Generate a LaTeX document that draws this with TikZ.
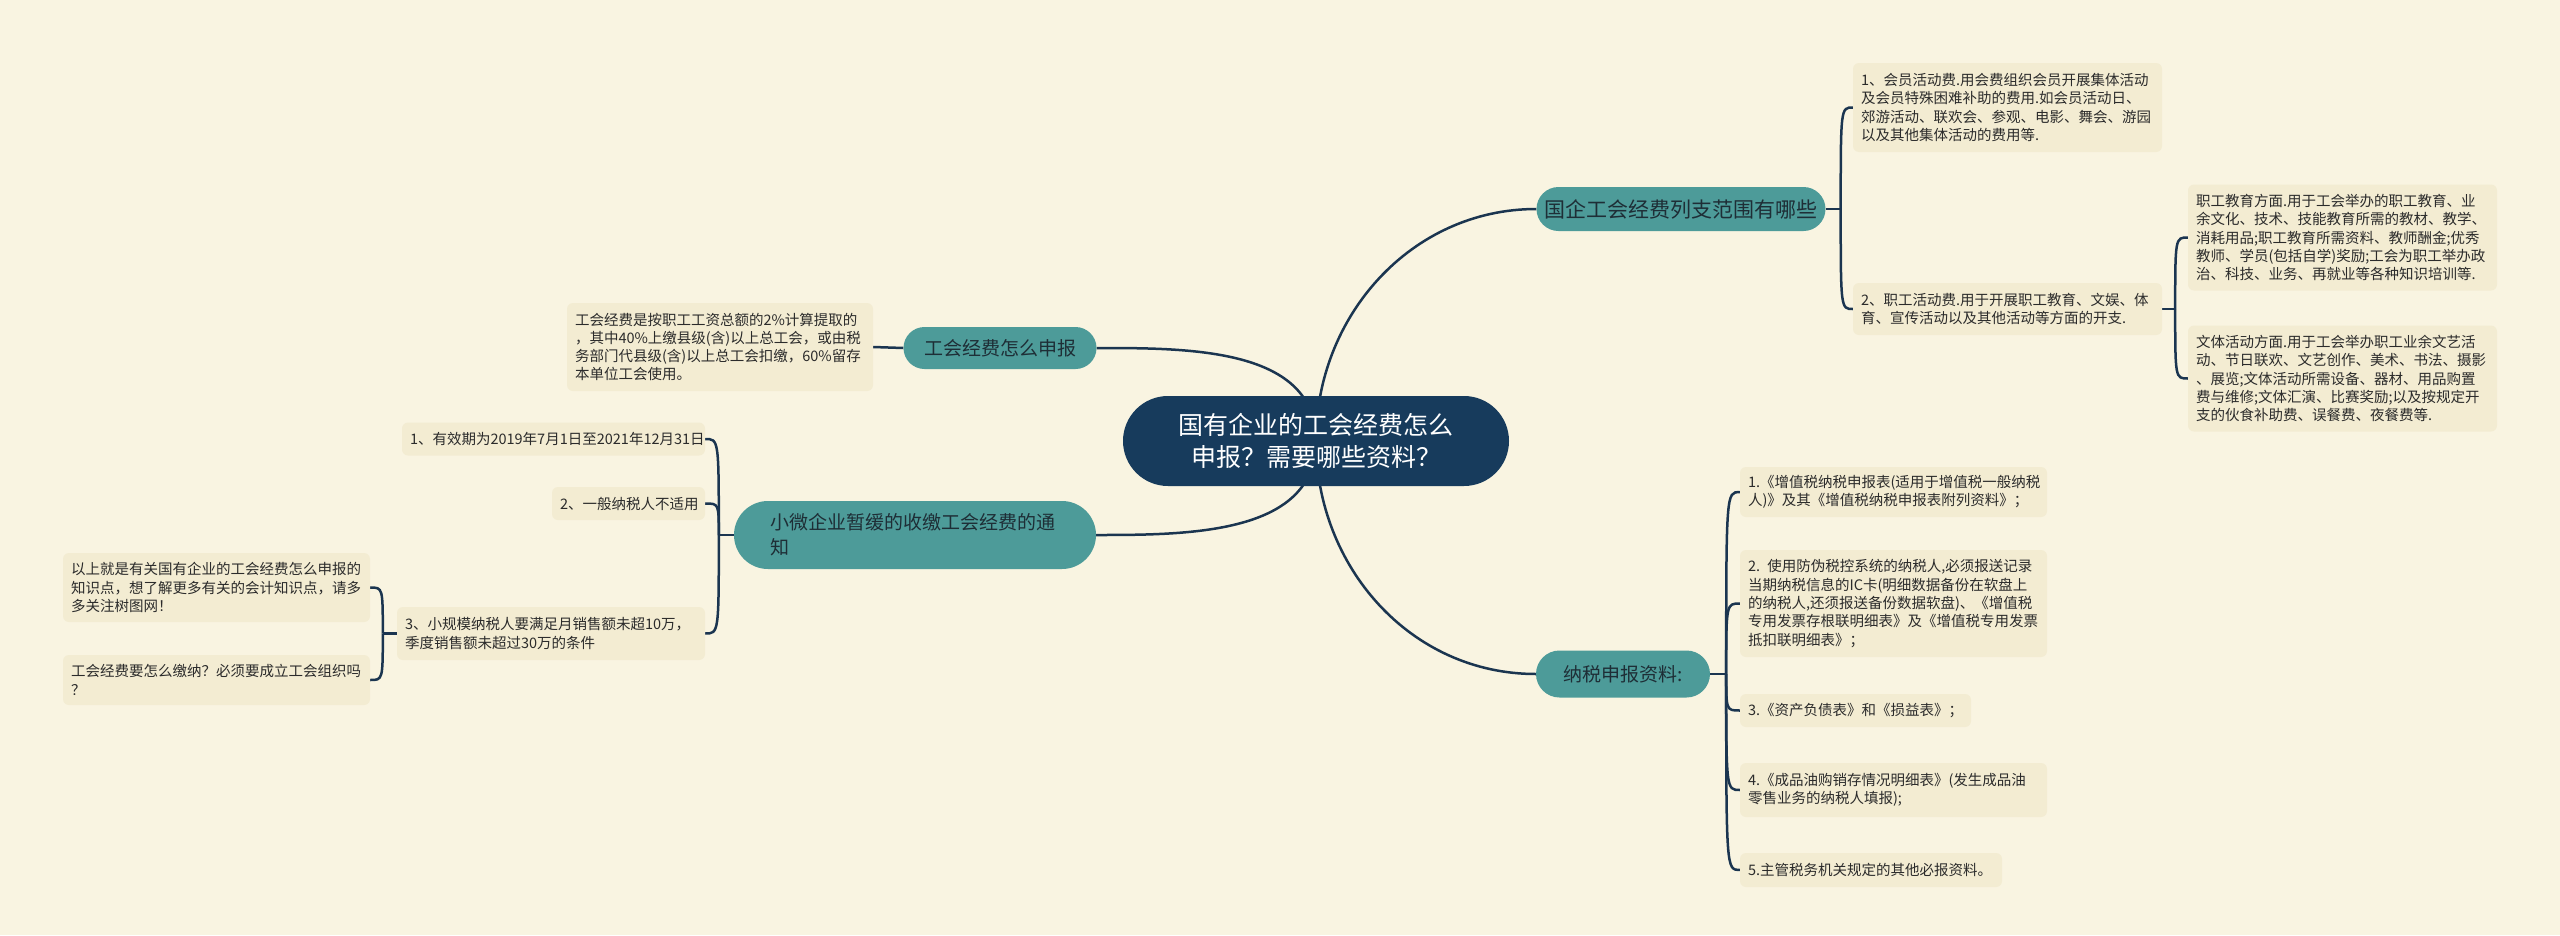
\documentclass[tikz,border=0pt]{standalone}
\usepackage{fontspec}
\newfontfamily\cjk{Noto Sans CJK SC}
\usetikzlibrary{shapes.misc,calc}
\definecolor{bgc}{HTML}{F9F4E1}
\definecolor{leafc}{HTML}{F3ECD2}
\definecolor{tealc}{HTML}{4D9B99}
\definecolor{navy}{HTML}{173B5C}
\definecolor{linec}{HTML}{1B3550}
\definecolor{txt}{HTML}{2B2B2B}
\definecolor{ttxt}{HTML}{1E2E36}
\pgfdeclarelayer{back}
\pgfdeclarelayer{edges}
\pgfsetlayers{back,edges,main}
\begin{document}
\begin{tikzpicture}[x=1pt,y=-1pt,
  leaf/.style={fill=leafc, rounded corners=6pt, inner xsep=8pt, inner ysep=0pt, align=left,
    font=\cjk\fontsize{14.5}{18.3}\selectfont, text=txt, anchor=center},
  topic/.style={rounded rectangle, fill=tealc, draw=none, inner sep=0pt,
    font=\cjk\fontsize{19}{25}\selectfont, text=ttxt, align=left},
  root/.style={rounded rectangle, fill=navy, text=white, inner sep=0pt,
    font=\cjk\fontsize{25}{32}\selectfont, align=center},
  link/.style={draw=linec, line width=2.5pt}
]
\useasboundingbox (0,0) rectangle (2560,935);
\begin{pgfonlayer}{back}
\fill[bgc] (0,0) rectangle (2560,935);
\end{pgfonlayer}

% central and topics
\node[root, minimum width=386pt, minimum height=90pt] (root) at (1316,441) {国有企业的工会经费怎么\\申报？需要哪些资料？};
\node[topic, minimum width=289pt, minimum height=44pt, font=\cjk\fontsize{21}{25}\selectfont] (n1) at (1681,209) {国企工会经费列支范围有哪些};
\node[topic, minimum width=193pt, minimum height=42pt] (n2) at (1000,348) {工会经费怎么申报};
\node[topic, minimum width=362pt, minimum height=68pt, text width=290pt] (n3) at (915,535) {小微企业暂缓的收缴工会经费的通\\知};
\node[topic, minimum width=174pt, minimum height=47pt] (n4) at (1623,674) {纳税申报资料:};

% right upper leaves
\node[leaf, text width=293pt, minimum height=89pt] (a1) at (2007.5,107.5) {1、会员活动费.用会费组织会员开展集体活动\\及会员特殊困难补助的费用.如会员活动日、\\郊游活动、联欢会、参观、电影、舞会、游园\\以及其他集体活动的费用等.};
\node[leaf, text width=293pt, minimum height=52pt] (a2) at (2007.5,309) {2、职工活动费.用于开展职工教育、文娱、体\\育、宣传活动以及其他活动等方面的开支.};
\node[leaf, text width=293pt, minimum height=106pt] (a3) at (2342.5,237.5) {职工教育方面.用于工会举办的职工教育、业\\余文化、技术、技能教育所需的教材、教学、\\消耗用品;职工教育所需资料、教师酬金;优秀\\教师、学员(包括自学)奖励;工会为职工举办政\\治、科技、业务、再就业等各种知识培训等.};
\node[leaf, text width=293pt, minimum height=106pt] (a4) at (2342.5,378.5) {文体活动方面.用于工会举办职工业余文艺活\\动、节日联欢、文艺创作、美术、书法、摄影\\、展览;文体活动所需设备、器材、用品购置\\费与维修;文体汇演、比赛奖励;以及按规定开\\支的伙食补助费、误餐费、夜餐费等.};

% left leaves
\node[leaf, text width=290pt, minimum height=88pt] (b1) at (720,347) {工会经费是按职工工资总额的2\%计算提取的\\，其中40\%上缴县级(含)以上总工会，或由税\\务部门代县级(含)以上总工会扣缴，60\%留存\\本单位工会使用。};
\node[leaf, text width=287pt, minimum height=33pt] (c1) at (553.5,439) {1、有效期为2019年7月1日至2021年12月31日};
\node[leaf, text width=137pt, minimum height=33pt] (c2) at (628.5,503.5) {2、一般纳税人不适用};
\node[leaf, text width=292pt, minimum height=53pt] (c3) at (551,633.5) {3、小规模纳税人要满足月销售额未超10万，\\季度销售额未超过30万的条件};
\node[leaf, text width=291pt, minimum height=69pt] (d1) at (216.5,587.5) {以上就是有关国有企业的工会经费怎么申报的\\知识点，想了解更多有关的会计知识点，请多\\多关注树图网！};
\node[leaf, text width=291pt, minimum height=50pt] (d2) at (216.5,680) {工会经费要怎么缴纳？必须要成立工会组织吗\\？};

% right lower leaves
\node[leaf, text width=291pt, minimum height=50pt] (e1) at (1893.5,492) {1.《增值税纳税申报表(适用于增值税一般纳税\\人)》及其《增值税纳税申报表附列资料》；};
\node[leaf, text width=291pt, minimum height=107pt] (e2) at (1893.5,603.5) {2. 使用防伪税控系统的纳税人,必须报送记录\\当期纳税信息的IC卡(明细数据备份在软盘上\\的纳税人,还须报送备份数据软盘)、《增值税\\专用发票存根联明细表》及《增值税专用发票\\抵扣联明细表》；};
\node[leaf, text width=215pt, minimum height=33pt] (e3) at (1855.5,710.5) {3.《资产负债表》和《损益表》；};
\node[leaf, text width=291pt, minimum height=54pt] (e4) at (1893.5,790) {4.《成品油购销存情况明细表》(发生成品油\\零售业务的纳税人填报);};
\node[leaf, text width=246pt, minimum height=34pt] (e5) at (1871,870) {5.主管税务机关规定的其他必报资料。};

% junctions
\coordinate (J1) at ($(n1.east)+(15,0)$);
\coordinate (J2) at ($(a2.east)+(13,0)$);
\coordinate (J3) at ($(n3.west)+(-15,0)$);
\coordinate (J4) at ($(c3.west)+(-14,0)$);
\coordinate (J5) at ($(n4.east)+(16,0)$);

\begin{pgfonlayer}{edges}
\draw[link] (root.center) to[out=90,in=180] (n1.west);
\draw[link] (root.center) to[out=-90,in=180] (n4.west);
\draw[link] (root.center) to[out=90,in=0] (n2.east);
\draw[link] (root.center) to[out=-90,in=0] (n3.east);
\draw[link] (n2.west) -- (b1.east);
\draw[link] (n1.east) -- (J1);
\draw[link] (J1) .. controls (J1 |- a1.west) .. (a1.west);
\draw[link] (J1) .. controls (J1 |- a2.west) .. (a2.west);
\draw[link] (a2.east) -- (J2);
\draw[link] (J2) .. controls (J2 |- a3.west) .. (a3.west);
\draw[link] (J2) .. controls (J2 |- a4.west) .. (a4.west);
\draw[link] (n3.west) -- (J3);
\draw[link] (J3) .. controls (J3 |- c1.east) .. (c1.east);
\draw[link] (J3) .. controls (J3 |- c2.east) .. (c2.east);
\draw[link] (J3) .. controls (J3 |- c3.east) .. (c3.east);
\draw[link] (c3.west) -- (J4);
\draw[link] (J4) .. controls (J4 |- d1.east) .. (d1.east);
\draw[link] (J4) .. controls (J4 |- d2.east) .. (d2.east);
\draw[link] (n4.east) -- (J5);
\draw[link] (J5) .. controls (J5 |- e1.west) .. (e1.west);
\draw[link] (J5) .. controls (J5 |- e2.west) .. (e2.west);
\draw[link] (J5) .. controls (J5 |- e3.west) .. (e3.west);
\draw[link] (J5) .. controls (J5 |- e4.west) .. (e4.west);
\draw[link] (J5) .. controls (J5 |- e5.west) .. (e5.west);
\end{pgfonlayer}
\end{tikzpicture}
\end{document}
